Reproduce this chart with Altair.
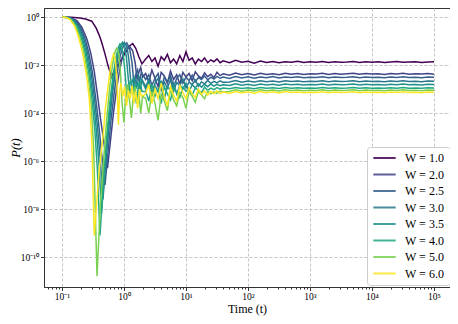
import altair as alt
import pandas as pd

W_LABELS = ["W = 1.0", "W = 2.0", "W = 2.5", "W = 3.0", "W = 3.5", "W = 4.0", "W = 5.0", "W = 6.0"]
COLORS = ["#440154", "#414487", "#355f8d", "#2a788e", "#21918c", "#22a884", "#7ad151", "#fde725"]

X_MAJOR = [0.1, 1, 10, 100, 1000, 10000, 100000]
X_LABELS = ["10⁻¹", "10⁰", "10¹", "10²", "10³", "10⁴", "10⁵"]
Y_MAJOR = [1, 1e-2, 1e-4, 1e-6, 1e-8, 1e-10]
Y_LABELS = ["10⁰", "10⁻²", "10⁻⁴", "10⁻⁶", "10⁻⁸", "10⁻¹⁰"]

# early (log10 t, log10 P) pairs
EARLY_W1 = [(-1.00, 0.00), (-0.85, -0.01), (-0.71, -0.04), (-0.62, -0.08), (-0.52, -0.17), (-0.45, -0.45),
            (-0.40, -0.75), (-0.36, -1.05), (-0.31, -1.50), (-0.26, -2.00), (-0.20, -2.50), (-0.15, -2.20),
            (-0.09, -1.95), (-0.04, -1.75), (0.03, -1.45), (0.09, -1.20), (0.14, -1.10), (0.19, -1.30),
            (0.24, -1.65), (0.29, -1.95)]
EARLY_W2 = [(-1.00, 0.00), (-0.86, -0.03), (-0.76, -0.15), (-0.68, -0.42), (-0.60, -0.90), (-0.54, -1.45),
            (-0.48, -2.25), (-0.43, -3.20), (-0.38, -4.20), (-0.32, -5.30), (-0.266, -6.30), (-0.22, -5.20),
            (-0.17, -4.00), (-0.12, -3.00), (-0.07, -2.20), (-0.02, -1.60), (0.03, -1.30), (0.09, -1.22),
            (0.14, -1.40), (0.18, -1.90), (0.21, -2.60), (0.24, -2.30), (0.27, -2.10), (0.30, -2.50)]
EARLY_W25 = [(-1.00, 0.00), (-0.87, -0.03), (-0.78, -0.15), (-0.70, -0.42), (-0.63, -0.88), (-0.57, -1.45),
             (-0.51, -2.30), (-0.46, -3.30), (-0.41, -4.40), (-0.36, -5.70), (-0.306, -7.00), (-0.26, -5.70),
             (-0.21, -4.30), (-0.16, -3.20), (-0.11, -2.30), (-0.06, -1.60), (-0.01, -1.20), (0.045, -1.08),
             (0.09, -1.30), (0.13, -1.90), (0.16, -2.80), (0.19, -2.40), (0.22, -2.20), (0.25, -2.70),
             (0.28, -2.30)]
EARLY_W3 = [(-1.00, 0.00), (-0.88, -0.03), (-0.80, -0.15), (-0.72, -0.42), (-0.65, -0.88), (-0.59, -1.45),
            (-0.53, -2.30), (-0.48, -3.30), (-0.43, -4.50), (-0.38, -6.00), (-0.339, -7.60), (-0.29, -6.00),
            (-0.24, -4.50), (-0.19, -3.30), (-0.14, -2.30), (-0.09, -1.60), (-0.04, -1.20), (0.005, -1.05),
            (0.05, -1.25), (0.08, -1.80), (0.11, -2.70), (0.14, -3.10), (0.17, -2.50), (0.20, -2.80),
            (0.23, -2.40), (0.26, -3.00), (0.29, -2.60)]
EARLY_W35 = [(-1.00, 0.00), (-0.89, -0.03), (-0.81, -0.15), (-0.74, -0.42), (-0.67, -0.88), (-0.61, -1.45),
             (-0.55, -2.30), (-0.50, -3.30), (-0.45, -4.60), (-0.40, -6.20), (-0.363, -8.20), (-0.31, -6.30),
             (-0.26, -4.70), (-0.21, -3.40), (-0.16, -2.40), (-0.11, -1.65), (-0.06, -1.20), (-0.024, -1.05),
             (0.01, -1.20), (0.04, -1.70), (0.07, -2.60), (0.10, -3.30), (0.13, -2.70), (0.16, -2.50),
             (0.19, -3.00), (0.22, -2.70), (0.25, -3.20), (0.28, -2.60)]
EARLY_W4 = [(-1.00, 0.00), (-0.90, -0.03), (-0.83, -0.14), (-0.76, -0.40), (-0.69, -0.85), (-0.63, -1.45),
            (-0.57, -2.30), (-0.52, -3.30), (-0.47, -4.70), (-0.43, -6.30), (-0.387, -9.10), (-0.33, -6.80),
            (-0.28, -5.00), (-0.23, -3.60), (-0.18, -2.50), (-0.13, -1.70), (-0.09, -1.25), (-0.065, -1.12),
            (-0.04, -1.20), (-0.01, -1.60), (0.02, -2.40), (0.05, -3.50), (0.08, -2.90), (0.11, -2.60),
            (0.14, -3.20), (0.17, -2.80), (0.20, -3.60), (0.23, -2.90), (0.26, -2.70), (0.29, -3.10)]
EARLY_W5 = [(-1.00, 0.00), (-0.92, -0.02), (-0.85, -0.12), (-0.78, -0.38), (-0.71, -0.85), (-0.67, -1.25),
            (-0.63, -1.70), (-0.57, -2.65), (-0.53, -3.60), (-0.49, -5.40), (-0.435, -10.80), (-0.38, -7.80),
            (-0.33, -6.00), (-0.28, -4.30), (-0.23, -2.90), (-0.18, -1.90), (-0.14, -1.40), (-0.118, -1.30),
            (-0.09, -1.45), (-0.06, -2.20), (-0.03, -3.60), (0.00, -4.40), (0.03, -3.20), (0.06, -2.80),
            (0.09, -3.50), (0.12, -4.20), (0.15, -3.30), (0.18, -2.90), (0.21, -3.60), (0.24, -3.20),
            (0.27, -4.00), (0.30, -3.30)]
EARLY_W6 = [(-1.00, 0.00), (-0.93, -0.02), (-0.87, -0.10), (-0.80, -0.35), (-0.74, -0.78), (-0.70, -1.15),
            (-0.66, -1.60), (-0.60, -2.50), (-0.56, -3.40), (-0.52, -5.10), (-0.48, -9.10), (-0.40, -6.40),
            (-0.335, -4.90), (-0.30, -3.80), (-0.25, -2.75), (-0.21, -1.95), (-0.17, -1.54), (-0.14, -1.75),
            (-0.115, -2.60), (-0.09, -4.50), (-0.07, -3.10), (-0.05, -2.75), (-0.02, -3.30), (0.01, -2.90),
            (0.04, -3.70), (0.07, -3.05), (0.10, -3.40), (0.13, -2.85), (0.16, -3.60), (0.19, -3.10),
            (0.22, -3.80), (0.25, -3.00), (0.28, -3.30)]

# shared log10 t grid for the noisy tail
T_LATE = [0.35, 0.40, 0.45, 0.50, 0.55, 0.60, 0.65, 0.70, 0.75, 0.80, 0.85, 0.90, 0.95, 1.00, 1.05, 1.10,
          1.15, 1.20, 1.25, 1.30, 1.35, 1.40, 1.45, 1.50, 1.55, 1.60,
          1.70, 1.80, 1.90, 2.00, 2.10, 2.20, 2.30, 2.40, 2.50, 2.60, 2.70, 2.80, 2.90, 3.00,
          3.10, 3.20, 3.30, 3.40, 3.50, 3.60, 3.70, 3.80, 3.90, 4.00, 4.10, 4.20, 4.30, 4.40, 4.50, 4.60,
          4.70, 4.80, 4.90, 5.00]

LATE_W1 = [-1.75, -1.60, -1.85, -1.70, -2.05, -1.65, -1.80, -1.55, -1.90, -1.75, -1.95, -1.60, -1.85,
           -1.45, -1.80, -1.70, -1.95, -1.75, -1.85, -1.70, -1.90, -1.78, -1.86, -1.74, -1.90, -1.82,
           -1.90, -1.80, -1.88, -1.84, -1.92, -1.83, -1.89, -1.85, -1.90, -1.86, -1.88, -1.84, -1.89, -1.86,
           -1.88, -1.85, -1.89, -1.86, -1.88, -1.87, -1.85, -1.89, -1.86, -1.88, -1.86, -1.89, -1.87, -1.85,
           -1.88, -1.87, -1.86, -1.89, -1.87, -1.86]
LATE_W2 = [-2.35, -2.70, -2.20, -2.55, -2.90, -2.30, -2.45, -2.75, -2.25, -2.60, -2.40, -2.80, -2.30,
           -2.50, -2.35, -2.65, -2.28, -2.45, -2.55, -2.32, -2.48, -2.38, -2.52, -2.30, -2.44, -2.36,
           -2.42, -2.33, -2.40, -2.35, -2.41, -2.34, -2.39, -2.36, -2.40, -2.34, -2.38, -2.35, -2.39, -2.36,
           -2.37, -2.34, -2.39, -2.35, -2.38, -2.36, -2.34, -2.38, -2.35, -2.37, -2.36, -2.39, -2.35, -2.37,
           -2.34, -2.38, -2.36, -2.37, -2.35, -2.38]
LATE_W25 = [-2.60, -2.40, -2.85, -2.55, -2.35, -3.00, -2.50, -2.70, -2.45, -2.90, -2.55, -2.40, -2.75,
            -2.50, -2.65, -2.42, -2.70, -2.52, -2.60, -2.45, -2.62, -2.50, -2.58, -2.47, -2.55, -2.50,
            -2.56, -2.48, -2.54, -2.49, -2.55, -2.50, -2.53, -2.48, -2.54, -2.50, -2.52, -2.49, -2.53, -2.51,
            -2.52, -2.49, -2.53, -2.50, -2.52, -2.51, -2.49, -2.53, -2.50, -2.52, -2.51, -2.53, -2.50, -2.52,
            -2.49, -2.52, -2.51, -2.53, -2.50, -2.51]
LATE_W3 = [-2.90, -2.60, -3.20, -2.75, -2.55, -3.05, -2.70, -2.95, -2.60, -3.10, -2.72, -2.85, -2.58,
           -2.95, -2.70, -2.82, -2.62, -2.88, -2.70, -2.78, -2.64, -2.76, -2.68, -2.74, -2.66, -2.72,
           -2.70, -2.64, -2.71, -2.66, -2.70, -2.65, -2.69, -2.66, -2.70, -2.65, -2.68, -2.66, -2.69, -2.67,
           -2.68, -2.65, -2.69, -2.66, -2.68, -2.67, -2.65, -2.69, -2.66, -2.68, -2.67, -2.69, -2.66, -2.68,
           -2.65, -2.68, -2.67, -2.69, -2.66, -2.67]
LATE_W35 = [-3.00, -2.70, -3.30, -2.85, -3.10, -2.65, -3.40, -2.90, -3.05, -2.75, -3.20, -2.85, -3.00,
            -2.75, -3.10, -2.82, -2.95, -2.78, -2.92, -2.80, -2.90, -2.79, -2.88, -2.80, -2.86, -2.82,
            -2.85, -2.78, -2.84, -2.80, -2.85, -2.79, -2.83, -2.80, -2.84, -2.79, -2.82, -2.80, -2.83, -2.81,
            -2.82, -2.79, -2.83, -2.80, -2.82, -2.81, -2.79, -2.83, -2.80, -2.82, -2.81, -2.83, -2.80, -2.82,
            -2.79, -2.82, -2.81, -2.83, -2.80, -2.81]
LATE_W4 = [-3.10, -3.50, -2.80, -3.30, -3.00, -3.60, -2.90, -3.20, -3.45, -2.95, -3.15, -3.35, -2.90,
           -3.10, -3.00, -3.25, -2.95, -3.05, -3.15, -2.92, -3.05, -2.96, -3.02, -2.94, -3.00, -2.96,
           -2.99, -2.93, -2.98, -2.94, -2.99, -2.93, -2.97, -2.94, -2.98, -2.93, -2.96, -2.94, -2.97, -2.95,
           -2.96, -2.93, -2.97, -2.94, -2.96, -2.95, -2.93, -2.97, -2.94, -2.96, -2.95, -2.97, -2.94, -2.96,
           -2.93, -2.96, -2.95, -2.97, -2.94, -2.95]
LATE_W5 = [-3.40, -4.00, -3.10, -3.60, -4.30, -3.20, -3.50, -3.90, -3.00, -3.45, -3.70, -3.15, -3.35,
           -3.80, -3.10, -3.30, -3.55, -3.10, -3.25, -3.40, -3.08, -3.20, -3.12, -3.18, -3.08, -3.12,
           -3.10, -3.03, -3.09, -3.04, -3.08, -3.03, -3.07, -3.04, -3.08, -3.03, -3.06, -3.04, -3.07, -3.05,
           -3.06, -3.03, -3.07, -3.04, -3.06, -3.05, -3.03, -3.07, -3.04, -3.06, -3.05, -3.07, -3.04, -3.06,
           -3.03, -3.06, -3.05, -3.07, -3.04, -3.05]
LATE_W6 = [-3.20, -2.80, -3.60, -3.00, -3.40, -2.75, -3.30, -3.70, -2.90, -3.25, -3.50, -2.85, -3.15,
           -3.40, -2.95, -3.20, -3.35, -3.00, -3.22, -3.08, -3.25, -3.10, -3.20, -3.08, -3.18, -3.12,
           -3.18, -3.10, -3.16, -3.11, -3.17, -3.10, -3.15, -3.11, -3.16, -3.10, -3.14, -3.12, -3.15, -3.13,
           -3.14, -3.11, -3.15, -3.12, -3.14, -3.13, -3.11, -3.15, -3.12, -3.14, -3.13, -3.15, -3.12, -3.14,
           -3.11, -3.14, -3.13, -3.15, -3.12, -3.13]

EARLY = [EARLY_W1, EARLY_W2, EARLY_W25, EARLY_W3, EARLY_W35, EARLY_W4, EARLY_W5, EARLY_W6]
LATE = [LATE_W1, LATE_W2, LATE_W25, LATE_W3, LATE_W35, LATE_W4, LATE_W5, LATE_W6]

rows = []
for k, (lab, early, late) in enumerate(zip(W_LABELS, EARLY, LATE)):
    pts = list(early) + list(zip(T_LATE, late))
    for i, (lt, lp) in enumerate(pts):
        rows.append({"W": lab, "k": k, "i": i, "t": 10 ** lt, "P": 10 ** lp})
df = pd.DataFrame(rows)

SERIF = "Liberation Serif"
PLOT_H = 279

x_minor = [m * 10.0 ** d for d in range(-2, 6) for m in range(2, 10)]
x_minor = [v for v in x_minor if 0.052 < v < 1.8e5]
x_vals = X_MAJOR + x_minor
is_major = "abs(log(datum.value)/LN10 - round(log(datum.value)/LN10)) < 0.01"
exp_expr = "round(log(datum.value)/LN10)"
x_label_expr = "(" + is_major + ") ? (" + " : ".join(
    f"{exp_expr} == {e} ? '{lab}'" for e, lab in zip(range(-1, 6), X_LABELS)) + " : '') : ''"
y_label_expr = " : ".join(
    f"datum.value > {v / 3} ? '{lab}'" for v, lab in zip(Y_MAJOR, Y_LABELS)) + " : ''"

x_axis = alt.Axis(
    values=x_vals, labelExpr=x_label_expr, title="Time (t)",
    titleFont=SERIF, titleFontSize=12, titleFontWeight="normal", titleColor="black",
    titleY=16, titleBaseline="top",
    labelFont=SERIF, labelFontSize=9.5, labelColor="black", labelPadding=1,
    tickSize={"condition": {"test": is_major, "value": 3.5}, "value": 2},
    tickColor="#333333", domainColor="#333333",
    grid=True, gridColor="#b5b5b5", gridDash=[3, 2], gridWidth=0.8,
    gridOpacity={"condition": {"test": is_major, "value": 1}, "value": 0},
    labelFlush=False,
)
y_axis = alt.Axis(
    values=Y_MAJOR, labelExpr=y_label_expr, title="P(t)",
    titleFont=SERIF, titleFontSize=12.5, titleFontStyle="italic", titleFontWeight="normal",
    titleColor="black", titleX=-22, titleY=PLOT_H / 2, titleAlign="center", titleBaseline="bottom",
    labelFont=SERIF, labelFontSize=9.5, labelColor="black", labelPadding=2,
    tickSize=3.5, tickColor="#333333", domainColor="#333333",
    grid=True, gridColor="#b5b5b5", gridDash=[3, 2], gridWidth=0.8,
    labelFlush=False,
)

chart = alt.Chart(df).mark_line(strokeWidth=1.5, clip=True).encode(
    x=alt.X("t:Q", scale=alt.Scale(type="log", domain=[10 ** -1.29, 10 ** 5.258], nice=False), axis=x_axis),
    y=alt.Y("P:Q", scale=alt.Scale(type="log", domain=[10 ** -11.25, 10 ** 0.38], nice=False), axis=y_axis),
    color=alt.Color("W:N", sort=W_LABELS,
                    scale=alt.Scale(domain=W_LABELS, range=COLORS),
                    legend=alt.Legend(
                        title=None, orient="none", legendX=323, legendY=139,
                        fillColor="white", strokeColor="#cccccc", cornerRadius=3, padding=5,
                        symbolType="stroke", symbolStrokeWidth=2, symbolSize=500,
                        labelFont=SERIF, labelFontSize=12, labelColor="black", labelOffset=8,
                        clipHeight=12, rowPadding=4.5, symbolOpacity=0.85,
                    )),
    order="i:Q",
).properties(
    width=406, height=PLOT_H, autosize="none",
    padding={"left": 36, "top": 0, "right": 0, "bottom": 36},
).configure_view(stroke="#333333", strokeWidth=1)

chart.save("out.html", embed_options={"renderer": "svg", "actions": False})
